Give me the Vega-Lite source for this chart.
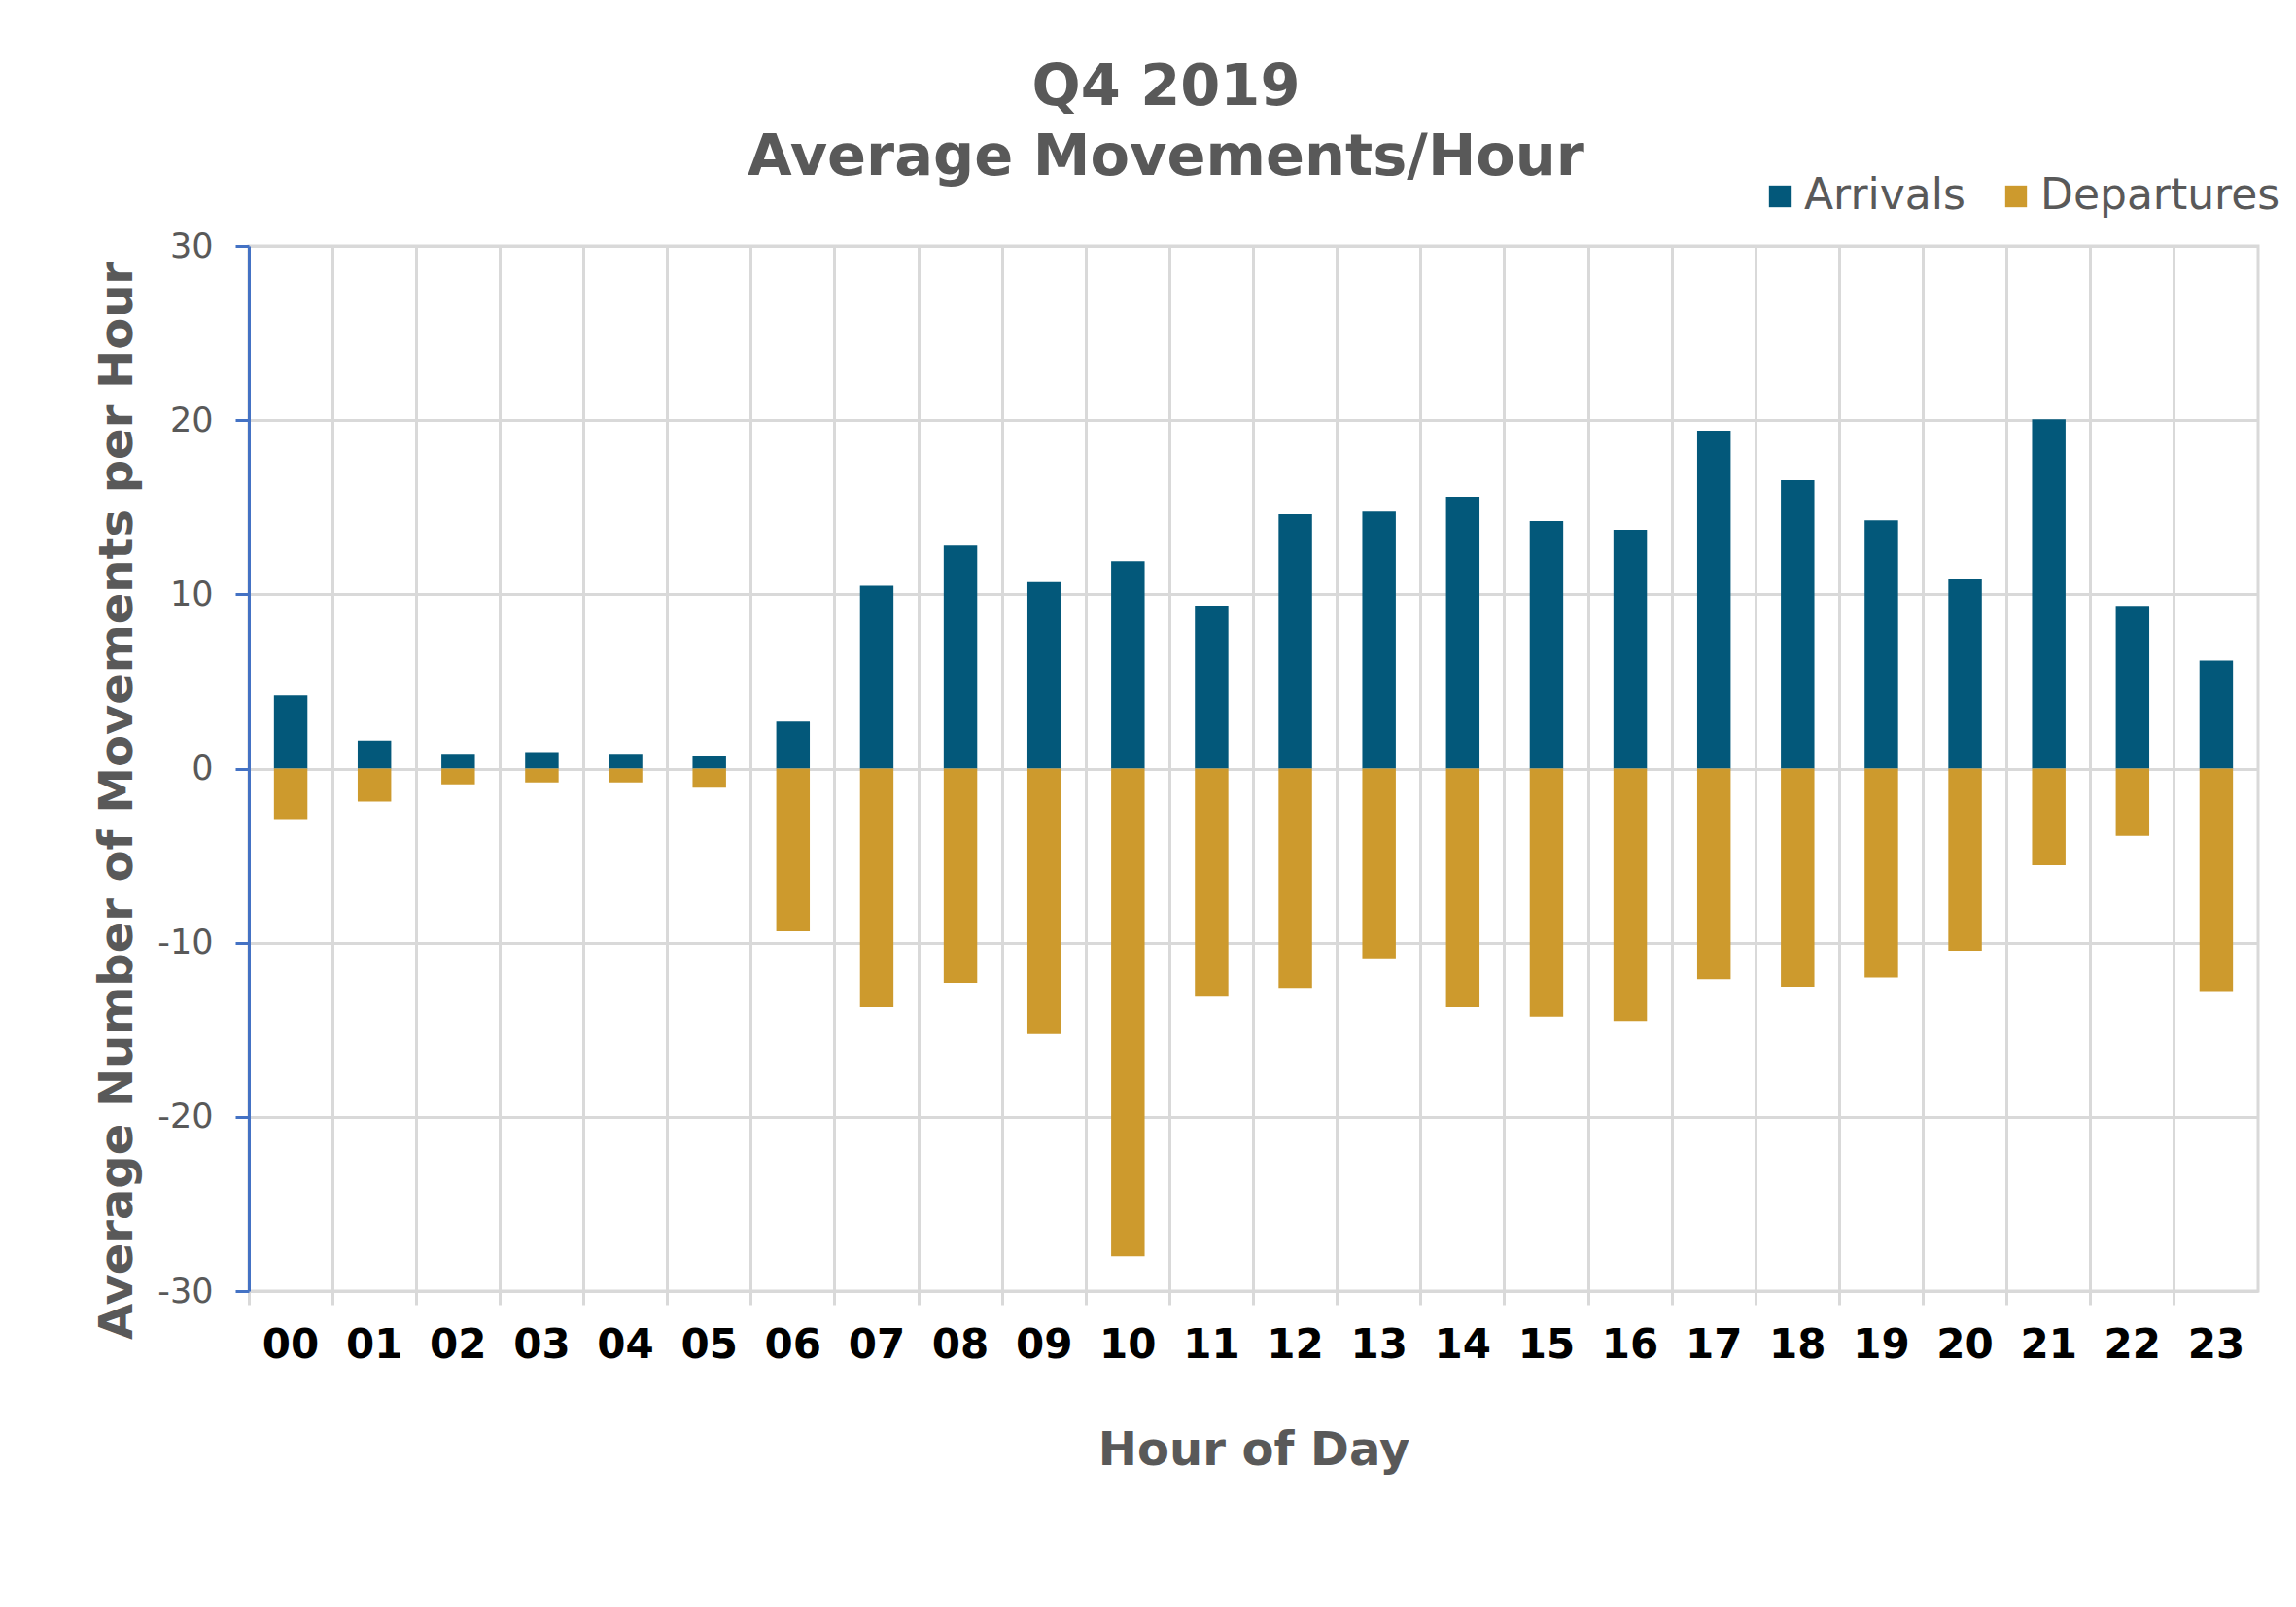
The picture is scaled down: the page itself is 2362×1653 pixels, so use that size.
{
  "$schema": "https://vega.github.io/schema/vega-lite/v6.json",
  "width": 2067,
  "height": 1075,
  "autosize": {"type": "none"},
  "padding": {"left": 256, "top": 253, "right": 39, "bottom": 325},
  "background": "white",
  "title": {
    "text": ["Q4 2019", "Average Movements/Hour"],
    "fontSize": 59,
    "lineHeight": 72,
    "font": "DejaVu Sans",
    "fontWeight": "bold",
    "color": "#595959",
    "anchor": "middle",
    "dx": -90,
    "dy": 62,
    "offset": 50
  },
  "data": {
    "values": [
      {"hour": "00", "type": "Arrivals", "value": 4.2},
      {"hour": "01", "type": "Arrivals", "value": 1.6},
      {"hour": "02", "type": "Arrivals", "value": 0.8},
      {"hour": "03", "type": "Arrivals", "value": 0.9},
      {"hour": "04", "type": "Arrivals", "value": 0.8},
      {"hour": "05", "type": "Arrivals", "value": 0.7},
      {"hour": "06", "type": "Arrivals", "value": 2.7},
      {"hour": "07", "type": "Arrivals", "value": 10.5},
      {"hour": "08", "type": "Arrivals", "value": 12.8},
      {"hour": "09", "type": "Arrivals", "value": 10.7},
      {"hour": "10", "type": "Arrivals", "value": 11.9},
      {"hour": "11", "type": "Arrivals", "value": 9.35},
      {"hour": "12", "type": "Arrivals", "value": 14.6},
      {"hour": "13", "type": "Arrivals", "value": 14.75},
      {"hour": "14", "type": "Arrivals", "value": 15.6},
      {"hour": "15", "type": "Arrivals", "value": 14.2},
      {"hour": "16", "type": "Arrivals", "value": 13.7},
      {"hour": "17", "type": "Arrivals", "value": 19.4},
      {"hour": "18", "type": "Arrivals", "value": 16.55},
      {"hour": "19", "type": "Arrivals", "value": 14.25},
      {"hour": "20", "type": "Arrivals", "value": 10.85},
      {"hour": "21", "type": "Arrivals", "value": 20.05},
      {"hour": "22", "type": "Arrivals", "value": 9.33},
      {"hour": "23", "type": "Arrivals", "value": 6.2},
      {"hour": "00", "type": "Departures", "value": -2.9},
      {"hour": "01", "type": "Departures", "value": -1.9},
      {"hour": "02", "type": "Departures", "value": -0.9},
      {"hour": "03", "type": "Departures", "value": -0.8},
      {"hour": "04", "type": "Departures", "value": -0.8},
      {"hour": "05", "type": "Departures", "value": -1.1},
      {"hour": "06", "type": "Departures", "value": -9.35},
      {"hour": "07", "type": "Departures", "value": -13.7},
      {"hour": "08", "type": "Departures", "value": -12.3},
      {"hour": "09", "type": "Departures", "value": -15.25},
      {"hour": "10", "type": "Departures", "value": -28.0},
      {"hour": "11", "type": "Departures", "value": -13.1},
      {"hour": "12", "type": "Departures", "value": -12.6},
      {"hour": "13", "type": "Departures", "value": -10.9},
      {"hour": "14", "type": "Departures", "value": -13.7},
      {"hour": "15", "type": "Departures", "value": -14.25},
      {"hour": "16", "type": "Departures", "value": -14.5},
      {"hour": "17", "type": "Departures", "value": -12.1},
      {"hour": "18", "type": "Departures", "value": -12.53},
      {"hour": "19", "type": "Departures", "value": -12.0},
      {"hour": "20", "type": "Departures", "value": -10.46},
      {"hour": "21", "type": "Departures", "value": -5.55},
      {"hour": "22", "type": "Departures", "value": -3.86},
      {"hour": "23", "type": "Departures", "value": -12.78}
    ]
  },
  "mark": {"type": "bar", "width": {"band": 0.4}},
  "encoding": {
    "x": {
      "field": "hour",
      "type": "ordinal",
      "scale": {"paddingInner": 0, "paddingOuter": 0},
      "axis": {
        "title": "Hour of Day",
        "bandPosition": 0,
        "labelOffset": 0,
        "labelAngle": 0,
        "labelFont": "DejaVu Sans",
        "labelFontWeight": "bold",
        "labelFontSize": 42,
        "labelColor": "#000000",
        "labelPadding": 21,
        "tickColor": "#d9d9d9",
        "tickWidth": 3,
        "tickSize": 14,
        "grid": true,
        "gridColor": "#d9d9d9",
        "gridWidth": 3,
        "domain": false,
        "titleFont": "DejaVu Sans",
        "titleFontSize": 48,
        "titleFontWeight": "bold",
        "titleColor": "#595959",
        "titlePadding": 64
      }
    },
    "y": {
      "field": "value",
      "type": "quantitative",
      "stack": "zero",
      "scale": {"domain": [-30, 30], "nice": false},
      "axis": {
        "title": "Average Number of Movements per Hour",
        "values": [-30, -20, -10, 0, 10, 20, 30],
        "labelExpr": "'' + datum.value",
        "labelFont": "DejaVu Sans",
        "labelFontSize": 35,
        "labelColor": "#595959",
        "labelPadding": 23,
        "tickColor": "#4472C4",
        "tickWidth": 3,
        "tickSize": 14,
        "domainColor": "#4472C4",
        "domainWidth": 3,
        "gridColor": "#d9d9d9",
        "gridWidth": 3,
        "titleFont": "DejaVu Sans",
        "titleFontSize": 48,
        "titleFontWeight": "bold",
        "titleColor": "#595959",
        "titlePadding": 16,
        "titleY": 570
      }
    },
    "color": {
      "field": "type",
      "type": "nominal",
      "scale": {"domain": ["Arrivals", "Departures"], "range": ["#03587A", "#CD9A2D"]},
      "legend": {
        "title": null,
        "orient": "none",
        "legendX": 1553,
        "legendY": -73,
        "direction": "horizontal",
        "symbolType": "square",
        "symbolSize": 500,
        "symbolStrokeWidth": 0,
        "labelFontSize": 44,
        "labelFont": "DejaVu Sans",
        "labelColor": "#595959",
        "labelOffset": 3,
        "labelLimit": 400,
        "columnPadding": 30,
        "padding": 0
      }
    }
  },
  "config": {"view": {"stroke": "#d9d9d9", "strokeWidth": 3}}
}
